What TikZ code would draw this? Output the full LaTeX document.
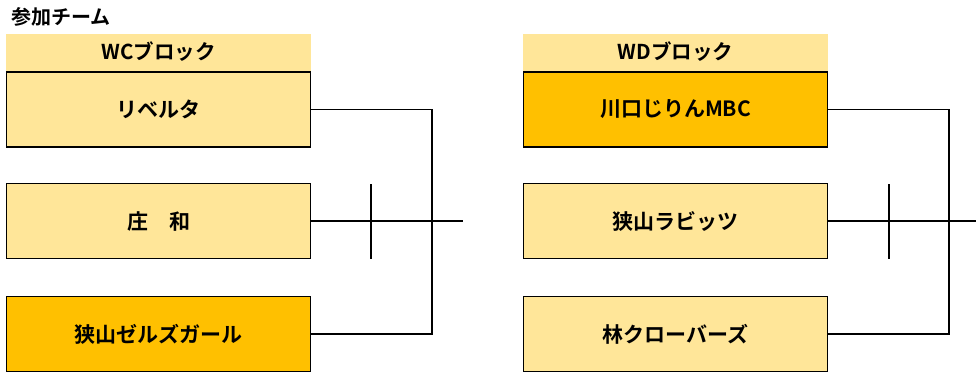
\documentclass[tikz,border=0pt]{standalone}
\usepackage{fontspec}
\setmainfont{Noto Sans CJK JP Bold}
\definecolor{lightY}{HTML}{FFE699}
\definecolor{orangeY}{HTML}{FFC000}
\begin{document}
\begin{tikzpicture}[x=1pt,y=-1pt,
  team/.style={draw=black,line width=1.5pt,minimum width=304pt,minimum height=75pt,inner sep=0pt,font=\fontsize{21}{24}\selectfont},
  hdr/.style={fill=lightY,minimum width=305pt,minimum height=37pt,inner sep=0pt,font=\fontsize{20.5}{24}\selectfont},
  conn/.style={line width=1.5pt}]
\useasboundingbox (0,0) rectangle (976,372);
\node[anchor=west,inner sep=0pt,font=\fontsize{20}{24}\selectfont] (title) at (11,17) {参加チーム};
% left block
\node[hdr] (hl) at (158.5,52) {WCブロック};
\node[team,fill=lightY] (l1) at (158.5,109.5) {リベルタ};
\node[team,fill=lightY] (l2) at (158.5,221) {庄　和};
\node[team,fill=orangeY] (l3) at (158.5,334) {狭山ゼルズガール};
% right block
\node[hdr] (hr) at (675.5,52) {WDブロック};
\node[team,fill=orangeY] (r1) at (675.5,109.5) {川口じりんMBC};
\node[team,fill=lightY] (r2) at (675.5,221) {狭山ラビッツ};
\node[team,fill=lightY] (r3) at (675.5,334) {林クローバーズ};
% left connectors
\coordinate (lj) at (432,109.5);
\coordinate (lo) at (463,221);
\coordinate (lt1) at (371,184);
\coordinate (lt2) at (371,259);
\draw[conn] (l1.east) -- (lj) |- (l3.east);
\draw[conn] (l2.east) -- (lo);
\draw[conn] (lt1) -- (lt2);
% right connectors
\coordinate (rj) at (949,109.5);
\coordinate (ro) at (976,221);
\coordinate (rt1) at (889,184);
\coordinate (rt2) at (889,259);
\draw[conn] (r1.east) -- (rj) |- (r3.east);
\draw[conn] (r2.east) -- (ro);
\draw[conn] (rt1) -- (rt2);
\end{tikzpicture}
\end{document}
